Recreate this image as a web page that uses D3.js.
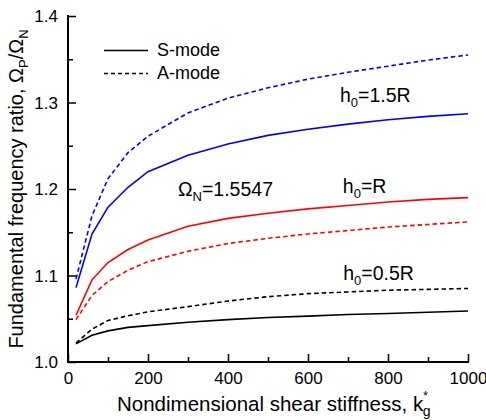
<!DOCTYPE html>
<meta charset="utf-8">
<style>
body { margin: 0; background: #fff; }
text { font-family: Arial, "Liberation Sans", sans-serif; fill: #000; }
.axis path, .axis line { stroke: #000; }
</style>
<svg width="486" height="420"></svg>
<script src="https://d3js.org/d3.v7.min.js"></script>
<script>

// shear stiffness values where the curves were computed
var kg = [20, 60, 100, 150, 200, 300, 400, 500, 600, 700, 800, 900, 1000];

// h0 = 1.5R
var s15 = [1.086, 1.148, 1.179, 1.202, 1.220, 1.239, 1.252, 1.262, 1.269, 1.275, 1.280, 1.284, 1.287];
var a15 = [1.096, 1.169, 1.212, 1.242, 1.261, 1.288, 1.305, 1.317, 1.327, 1.335, 1.342, 1.349, 1.355];
// h0 = R
var s10 = [1.054, 1.095, 1.115, 1.130, 1.141, 1.157, 1.166, 1.172, 1.177, 1.181, 1.185, 1.188, 1.190];
var a10 = [1.049, 1.077, 1.093, 1.106, 1.116, 1.128, 1.137, 1.143, 1.148, 1.152, 1.156, 1.159, 1.162];
// h0 = 0.5R
var s05 = [1.021, 1.031, 1.036, 1.040, 1.042, 1.046, 1.049, 1.0515, 1.053, 1.055, 1.056, 1.0575, 1.059];
var a05 = [1.022, 1.038, 1.048, 1.0535, 1.058, 1.064, 1.0705, 1.0755, 1.079, 1.081, 1.083, 1.084, 1.085];

var xTicks = [0, 200, 400, 600, 800, 1000];
var yTicks = [1.0, 1.1, 1.2, 1.3, 1.4];

var series = [
  {vals: a15, color: "#0000ff", dash: "4.5,3"},
  {vals: s15, color: "#0000ff", dash: null},
  {vals: s10, color: "#ff0000", dash: null},
  {vals: a10, color: "#ff0000", dash: "4.5,3"},
  {vals: a05, color: "#000", dash: "4.5,3"},
  {vals: s05, color: "#000", dash: null}
];

var svg = d3.select("svg");

var x = d3.scaleLinear().domain([0, 1000]).range([68, 468]);
var y = d3.scaleLinear().domain([1.0, 1.4]).range([362, 16]);

// minor ticks
svg.append("g")
    .attr("class", "axis")
    .attr("transform", "translate(0,362)")
    .call(d3.axisTop(x).tickValues(d3.range(100, 1000, 200)).tickSize(5).tickFormat(""))
    .call(function(g) { g.select(".domain").remove(); })
    .selectAll("line").attr("stroke-width", 1.5);

svg.append("g")
    .attr("class", "axis")
    .attr("transform", "translate(68,0)")
    .call(d3.axisRight(y).tickValues([1.05, 1.15, 1.25, 1.35]).tickSize(5).tickFormat(""))
    .call(function(g) { g.select(".domain").remove(); })
    .selectAll("line").attr("stroke-width", 1.5);

// major ticks + labels
var xa = svg.append("g")
    .attr("class", "axis")
    .attr("transform", "translate(0,362)")
    .call(d3.axisTop(x).tickValues(xTicks).tickSize(8).tickSizeOuter(0).tickFormat(d3.format("d")));
xa.select(".domain").attr("stroke-width", 2).attr("d", "M67,0H469");
xa.selectAll("line").attr("stroke-width", 1.5);
xa.selectAll("text").attr("y", 22).attr("dy", 0).attr("font-size", 17);

var ya = svg.append("g")
    .attr("class", "axis")
    .attr("transform", "translate(68,0)")
    .call(d3.axisRight(y).tickValues(yTicks).tickSize(8).tickSizeOuter(0).tickFormat(d3.format(".1f")));
ya.select(".domain").attr("stroke-width", 2).attr("d", "M0,15V363");
ya.selectAll("line").attr("stroke-width", 1.5);
ya.selectAll("text").attr("x", -10).attr("dy", "0.35em").attr("text-anchor", "end").attr("font-size", 17);

// curves
var line = d3.line()
    .x(function(d, i) { return x(kg[i]); })
    .y(function(d) { return y(d); });

svg.append("g").selectAll("path")
    .data(series)
    .enter().append("path")
      .attr("d", function(d) { return line(d.vals); })
      .attr("fill", "none")
      .attr("stroke", function(d) { return d.color; })
      .attr("stroke-width", 1.6)
      .attr("stroke-dasharray", function(d) { return d.dash; });

// legend
var legend = [{label: "S-mode", dash: null}, {label: "A-mode", dash: "4,3"}];
var lg = svg.append("g").selectAll("g")
    .data(legend)
    .enter().append("g")
      .attr("transform", function(d, i) { return "translate(104," + (50.5 + i * 23) + ")"; });
lg.append("line")
    .attr("x1", 0).attr("x2", 44)
    .attr("stroke", "#000").attr("stroke-width", 1.6)
    .attr("stroke-dasharray", function(d) { return d.dash; });
lg.append("text")
    .attr("x", 53).attr("y", 5)
    .attr("font-size", 18)
    .text(function(d) { return d.label; });

// annotations (positioned in data space)
var notes = [
  {k: 680, v: 1.301, main: "h", sub: "0", rest: "=1.5R"},
  {k: 687, v: 1.1957, main: "h", sub: "0", rest: "=R"},
  {k: 688, v: 1.0948, main: "h", sub: "0", rest: "=0.5R"},
  {k: 275, v: 1.1923, main: "\u03A9", sub: "N", rest: "=1.5547"}
];
var nt = svg.append("g").selectAll("text")
    .data(notes)
    .enter().append("text")
      .attr("x", function(d) { return x(d.k); })
      .attr("y", function(d) { return y(d.v); })
      .attr("font-size", 19.5);
nt.append("tspan").text(function(d) { return d.main; });
nt.append("tspan").attr("font-size", 13).attr("dy", 5).text(function(d) { return d.sub; });
nt.append("tspan").attr("dy", -5).text(function(d) { return d.rest; });

// x title
var xt = svg.append("text")
    .attr("x", 117).attr("y", 411)
    .attr("font-size", 20.5);
xt.append("tspan").text("Nondimensional shear stiffness, k");
xt.append("tspan").attr("font-size", 12).attr("dy", -11).text("*");
xt.append("tspan").attr("font-size", 14).attr("dx", -5).attr("dy", 16).text("g");

// y title
var yt = svg.append("text")
    .attr("transform", "translate(23," + ((16 + 362) / 2) + ") rotate(-90)")
    .attr("text-anchor", "middle")
    .attr("font-size", 20);
yt.append("tspan").text("Fundamental frequency ratio, \u03A9");
yt.append("tspan").attr("font-size", 13).attr("dy", 5).text("P");
yt.append("tspan").attr("dy", -5).text("/\u03A9");
yt.append("tspan").attr("font-size", 13).attr("dy", 5).text("N");

</script>
